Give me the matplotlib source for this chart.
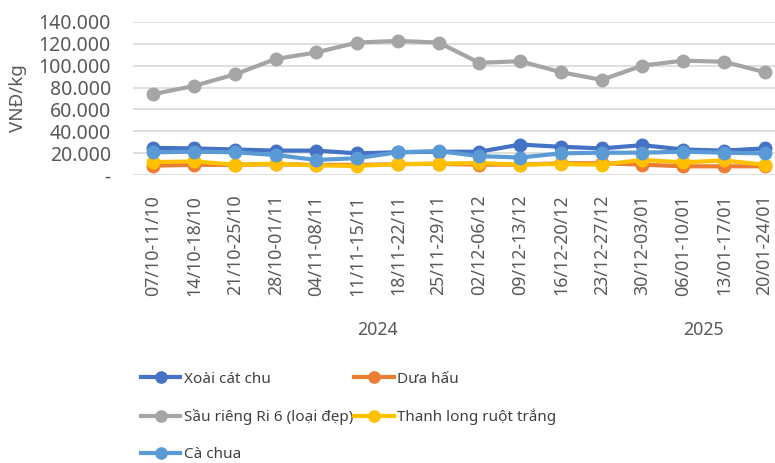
import numpy as np
import matplotlib
matplotlib.use("Agg")
import matplotlib.pyplot as plt
import matplotlib.transforms as mtransforms

plt.rcParams['font.family'] = ['Noto Sans', 'DejaVu Sans']

weeks = ['07/10-11/10', '14/10-18/10', '21/10-25/10', '28/10-01/11', '04/11-08/11',
         '11/11-15/11', '18/11-22/11', '25/11-29/11', '02/12-06/12', '09/12-13/12',
         '16/12-20/12', '23/12-27/12', '30/12-03/01', '06/01-10/01', '13/01-17/01',
         '20/01-24/01']
years = ['2024', '2025']
year_span = [(0, 11), (12, 15)]

xoai = [25000, 24500, 23500, 22500, 22500, 20000, 21000, 21500, 21500, 28000,
        26000, 24500, 27500, 23500, 22500, 24500]
dua_hau = [8800, 9500, 9500, 10000, 9500, 9500, 10000, 10500, 9700, 9700,
           11000, 11000, 9700, 8200, 8200, 8200]
sau_rieng = [74000, 81500, 92000, 106000, 112000, 121000, 122500, 121000, 102500, 104000,
             94000, 87000, 100000, 104500, 103500, 94000]
thanh_long = [12000, 12600, 9700, 10500, 9000, 8500, 10300, 10600, 11200, 9700,
              10300, 9700, 14000, 11800, 13500, 9700]
ca_chua = [21000, 21500, 21000, 18500, 14000, 15600, 21000, 22000, 17500, 16200,
           20000, 20600, 20600, 21500, 20600, 20000]

# drawn in this order (Excel series order, later ones on top)
series = [
    ('Xoài cát chu', xoai, '#4472C4'),
    ('Dưa hấu', dua_hau, '#ED7D31'),
    ('Sầu riêng Ri 6 (loại đẹp)', sau_rieng, '#A5A5A5'),
    ('Thanh long ruột trắng', thanh_long, '#FFC000'),
    ('Cà chua', ca_chua, '#5B9BD5'),
]
legend_order = [0, 2, 4, 1, 3]

fig = plt.figure(figsize=(7.75, 4.63), dpi=100)
ax = fig.add_axes([133/775, 1 - 175.3/463, (785 - 133)/775, (175.3 - 21.7)/463])

x = np.arange(len(weeks))
handles = []
for k, (name, vals, col) in enumerate(series):
    h, = ax.plot(x, vals, color=col, lw=3, marker='o', ms=9, label=name, zorder=3 + k)
    handles.append(h)

ax.set_xlim(-0.5, len(weeks) - 0.5)
ax.set_ylim(0, 140000)
ticks = list(range(0, 140001, 20000))
ax.set_yticks(ticks)
ax.set_yticklabels(['-' if v == 0 else '{:,}'.format(v).replace(',', '.') for v in ticks],
                   color='#595959', fontsize=14)
ax.set_xticks(x)
ax.set_xticklabels(weeks, rotation=90, color='#595959', fontsize=12.8)
ax.tick_params(axis='x', length=0, pad=14)
ax.tick_params(axis='y', length=0, pad=16)
ax.grid(axis='y', color='#D9D9D9', lw=1.2)
ax.set_axisbelow(True)
for s in ax.spines.values():
    s.set_visible(False)
ax.set_ylabel('VNĐ/kg', color='#595959', fontsize=13.5, labelpad=8)

trans = mtransforms.blended_transform_factory(ax.transData, fig.transFigure)
for yr, (a, b) in zip(years, year_span):
    ax.text((a + b) / 2, 1 - 330/463, yr, transform=trans, ha='center', va='center',
            color='#595959', fontsize=12.8)

leg = fig.legend([handles[i] for i in legend_order], [series[i][0] for i in legend_order], ncol=2,
                 loc='upper left', bbox_to_anchor=(127/775, 1 - 358/463), frameon=False,
                 fontsize=11, handlelength=2.6, handletextpad=0.2, columnspacing=0.1,
                 labelspacing=1.45, labelcolor='#404040', markerscale=0.9)

fig.savefig('out.png', dpi=100)
